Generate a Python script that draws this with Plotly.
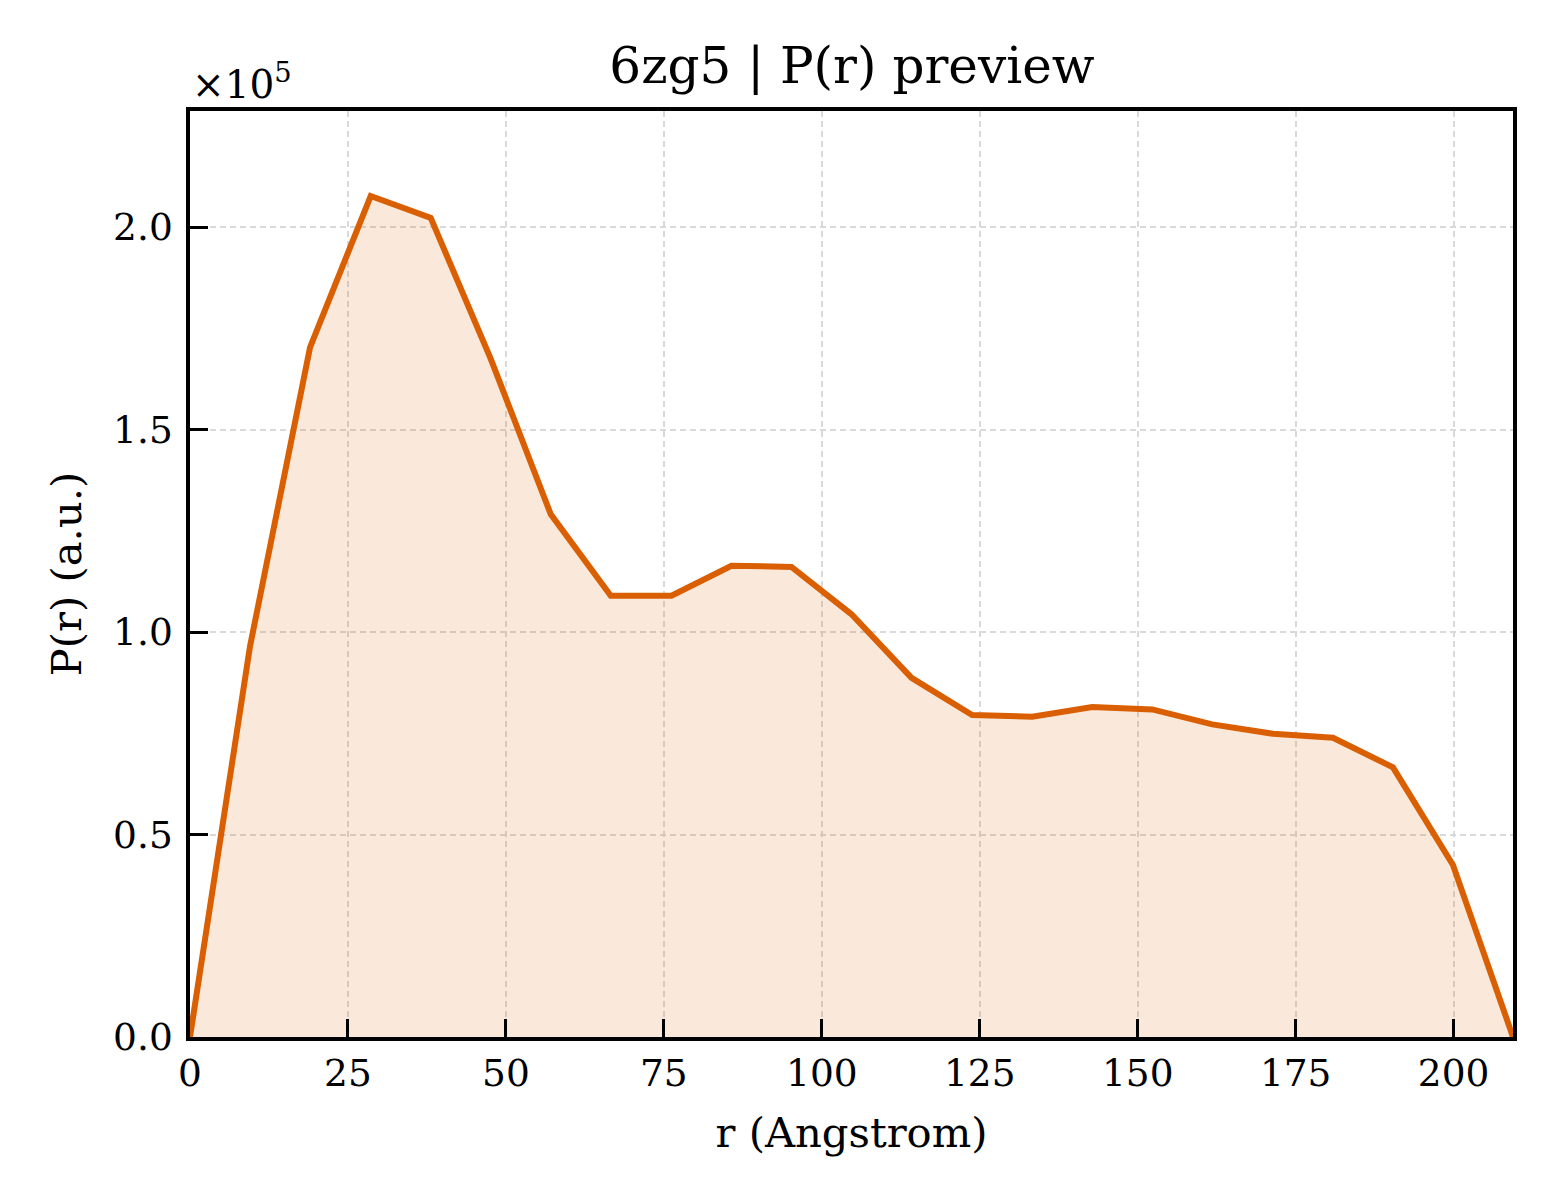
import plotly.graph_objects as go

# P(r) preview for 6zg5
r_angstrom = [0.0, 9.5, 19.0, 28.6, 38.1, 47.6, 57.1, 66.6, 76.2, 85.7, 95.2, 104.7,
              114.2, 123.8, 133.3, 142.8, 152.3, 161.8, 171.4, 180.9, 190.4, 199.9, 209.4]
p_r = [0, 96500, 170300, 207700, 202300, 167500, 129100, 109000, 109000, 116400, 116100,
       104400, 88700, 79500, 79100, 81500, 80900, 77200, 74900, 73900, 66600, 42500, 0]

y_ticks = [0, 50000, 100000, 150000, 200000]
y_tick_labels = ["0.0", "0.5", "1.0", "1.5", "2.0"]
x_ticks = [0, 25, 50, 75, 100, 125, 150, 175, 200]

line_color = "#d95f02"
font_family = "DejaVu Serif"

fig = go.Figure()
fig.add_trace(go.Scatter(
    x=r_angstrom,
    y=p_r,
    mode="lines",
    line=dict(color=line_color, width=6),
    fill="tozeroy",
    fillcolor="rgba(217,95,2,0.14)",
    showlegend=False,
))

axis_common = dict(
    showline=True,
    linecolor="black",
    linewidth=3.5,
    mirror=True,
    ticks="inside",
    ticklen=18,
    tickwidth=3.3,
    tickcolor="black",
    showgrid=True,
    gridcolor="#d9d9d9",
    gridwidth=1.8,
    griddash="6px,4px",
    zeroline=False,
    tickfont=dict(family=font_family, size=37.5, color="black"),
)

fig.update_xaxes(
    range=[0, 209.4],
    tickvals=x_ticks,
    title=dict(text="r (Angstrom)", font=dict(family=font_family, size=41.7, color="black"), standoff=25),
    ticklabelstandoff=0,
    **axis_common,
)
fig.update_yaxes(
    range=[0, 228700],
    tickvals=y_ticks,
    ticktext=y_tick_labels,
    title=dict(text="P(r) (a.u.)", font=dict(family=font_family, size=41.7, color="black"), standoff=20),
    ticklabelstandoff=6,
    **axis_common,
)

# page body adds a small offset, so margins are nudged to keep the plot area in place
fig.update_layout(
    width=1560,
    height=1200,
    margin=dict(l=182, r=55, t=103, b=171),
    plot_bgcolor="white",
    paper_bgcolor="white",
    font=dict(family=font_family, color="black"),
    title=dict(
        text="6zg5 | P(r) preview",
        font=dict(family=font_family, size=50, color="black"),
        x=0.541, xanchor="center",
        y=0.952, yanchor="middle",
    ),
    annotations=[
        dict(
            text="×10<sup>5</sup>",
            xref="paper", yref="paper",
            x=0, y=1.002,
            xanchor="left", yanchor="bottom",
            showarrow=False,
            font=dict(family=font_family, size=39, color="black"),
        )
    ],
)

fig.write_html("out.html")
